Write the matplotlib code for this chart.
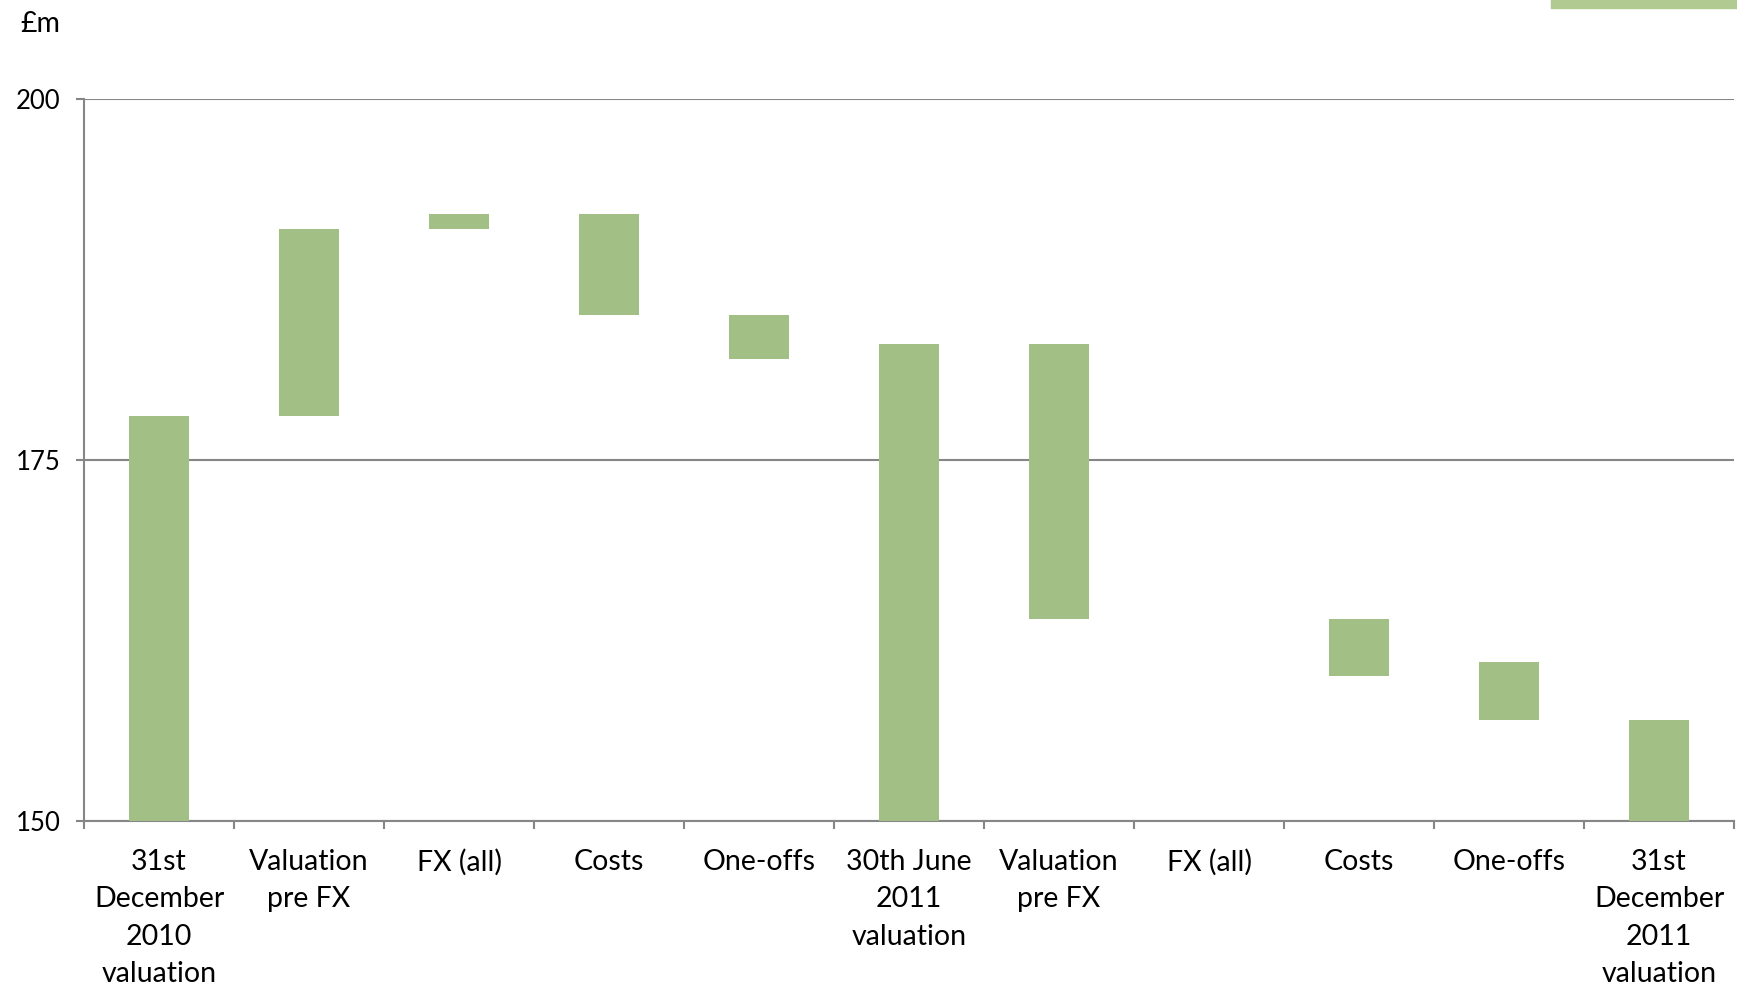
import numpy as np
import matplotlib.pyplot as plt
from matplotlib.patches import Rectangle

# waterfall steps, £m
labels = ['31st\nDecember\n2010\nvaluation', 'Valuation\npre FX', 'FX (all)', 'Costs',
          'One-offs', '30th June\n2011\nvaluation', 'Valuation\npre FX', 'FX (all)',
          'Costs', 'One-offs', '31st\nDecember\n2011\nvaluation']
bar_low = [0, 178, 191, 185, 182, 0, 164, 164, 160, 157, 0]
bar_high = [178, 191, 192, 192, 185, 183, 183, 164, 164, 161, 157]

bar_green = '#a2bf85'
grey = '#868686'

plt.rcParams['font.family'] = ['Lato', 'DejaVu Sans']

fig = plt.figure(figsize=(17.37, 9.89), dpi=100)
ax = fig.add_axes([0.0484, 0.1699, 0.9499, 0.7304])

x = np.arange(len(labels))
heights = np.subtract(bar_high, bar_low)
ax.bar(x, heights, bottom=bar_low, width=0.4, color=bar_green,
       linewidth=0, zorder=3)

ax.set_xlim(-0.5, len(labels) - 0.5)
ax.set_ylim(150, 200)
ax.set_yticks([150, 175, 200])
ax.yaxis.grid(True, color=grey, linewidth=1.5, zorder=1)

for s in ['top', 'right']:
    ax.spines[s].set_visible(False)
for s in ['left', 'bottom']:
    ax.spines[s].set_color(grey)
    ax.spines[s].set_linewidth(1.5)

# labels sit between the tick marks, which mark category boundaries
ax.set_xticks(x)
ax.set_xticklabels(labels, fontsize=20.5, linespacing=1.55)
ax.tick_params(axis='x', which='major', length=0, pad=20)
ax.set_xticks(np.arange(len(labels) + 1) - 0.5, minor=True)
ax.tick_params(axis='x', which='minor', length=6, width=1.5, color=grey)
ax.tick_params(axis='y', length=6, width=1.5, color=grey, labelsize=18.5, pad=11)

fig.text(0.0115, 0.976, '£m', fontsize=20.5, va='center', ha='left')

# legend swatch at the top right edge
fig.patches.append(Rectangle((0.8927, 0.9922), 0.11, 0.01, transform=fig.transFigure,
                             color='#b0ca92', zorder=5))

plt.savefig('out.png', dpi=100)
